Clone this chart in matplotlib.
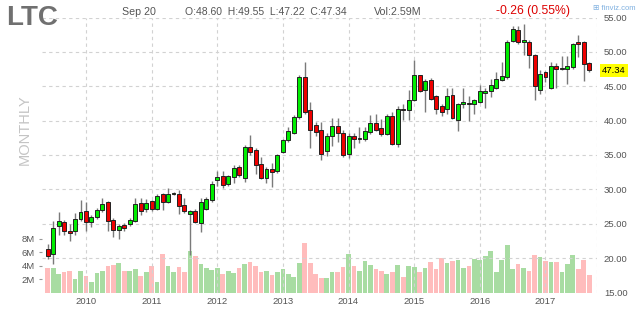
import matplotlib
matplotlib.use("Agg")
import matplotlib.pyplot as plt
import numpy as np

plt.rcParams['font.family'] = ['Liberation Sans', 'DejaVu Sans']

# Monthly candles, Jun 2009 .. Sep 2017
opens = [21.3, 20.6, 24.7, 25.3, 23.9, 23.9, 25.7,
         26.9, 25.25, 25.97, 26.95, 28.1, 25.6, 24.15, 24.85, 24.95, 25.45, 28.0, 27.1,
         28.25, 27.15, 29.3, 28.1, 29.3, 29.3, 27.7, 26.4, 26.9, 25.1, 27.2, 28.4,
         31.3, 31.95, 30.75, 31.85, 33.3, 31.6, 36.2, 35.7, 33.7, 31.7, 32.9, 32.7,
         35.5, 37.2, 38.2, 40.5, 46.3, 41.5, 39.3, 38.7, 35.6, 37.8, 39.25, 38.2,
         35.1, 37.7, 37.3, 37.4, 38.4, 39.7, 39.0, 38.1, 40.65, 36.6, 41.75, 41.5,
         42.95, 46.6, 44.4, 45.95, 43.55, 42.1, 41.7, 43.7, 40.1, 42.4, 42.6, 42.4,
         42.7, 44.05, 44.3, 44.8, 45.95, 46.3, 51.6, 53.2, 51.4, 51.4, 49.5, 44.5,
         47.1, 44.8, 47.95, 47.5, 47.45, 47.8, 51.45, 51.45, 48.4]
highs = [22.0, 25.4, 26.7, 25.6, 24.9, 26.5, 28.4,
         28.15, 26.3, 27.3, 28.7, 28.25, 25.85, 24.95, 25.1, 25.8, 28.7, 28.7, 28.6,
         28.5, 29.3, 29.45, 30.2, 29.55, 29.9, 28.8, 27.0, 27.1, 28.7, 28.9, 31.2,
         32.7, 32.7, 32.1, 33.55, 33.55, 36.45, 37.9, 35.95, 34.75, 33.3, 33.9, 35.15,
         37.3, 39.1, 40.8, 46.6, 48.5, 42.7, 39.8, 39.8, 38.2, 40.4, 40.4, 38.6,
         38.2, 38.2, 39.1, 39.1, 40.8, 41.0, 40.2, 41.0, 41.3, 42.2, 42.4, 44.4,
         48.8, 46.7, 46.1, 46.2, 43.7, 42.4, 44.7, 44.75, 42.6, 44.8, 43.55, 43.2,
         45.2, 44.7, 46.1, 47.1, 48.5, 51.7, 53.7, 53.7, 54.0, 51.7, 49.7, 47.3,
         47.2, 48.5, 48.4, 49.4, 49.4, 51.3, 52.5, 51.6, 48.55]
lows = [19.9, 19.2, 23.3, 23.4, 22.5, 23.3, 25.35,
        23.9, 24.6, 25.7, 26.7, 24.0, 23.05, 22.8, 23.9, 24.7, 25.2, 26.3, 26.65,
        26.8, 27.0, 27.0, 28.0, 29.2, 26.4, 26.6, 20.4, 25.1, 23.8, 27.0, 28.2,
        30.5, 30.2, 30.5, 31.0, 31.85, 31.1, 35.0, 32.3, 31.5, 31.0, 30.4, 32.4,
        35.3, 36.9, 38.1, 40.3, 41.0, 36.0, 37.8, 34.3, 34.9, 36.3, 36.9, 34.75,
        34.6, 36.0, 36.7, 37.0, 38.1, 38.5, 37.8, 37.9, 36.45, 36.2, 40.1, 40.1,
        42.8, 44.2, 41.3, 43.0, 41.0, 40.7, 40.9, 40.3, 38.5, 41.9, 40.0, 41.0,
        42.6, 41.9, 43.4, 44.6, 45.7, 46.1, 51.4, 51.1, 49.6, 47.7, 43.0, 43.85,
        45.6, 44.6, 44.7, 47.3, 45.4, 47.55, 49.3, 45.7, 47.05]
closes = [20.3, 24.4, 25.4, 23.9, 23.65, 25.7, 26.7,
          25.25, 25.97, 27.0, 27.85, 25.45, 24.15, 24.6, 24.45, 25.5, 27.85, 26.8, 28.0,
          27.15, 29.1, 28.1, 29.3, 29.45, 27.6, 26.9, 26.9, 25.2, 28.2, 28.6, 30.75,
          31.85, 30.65, 31.95, 33.15, 32.1, 36.2, 35.4, 33.55, 31.6, 32.9, 32.5, 35.0,
          37.2, 38.5, 40.55, 46.3, 41.3, 38.7, 38.4, 35.15, 37.75, 39.25, 38.2, 35.0,
          37.75, 37.4, 37.5, 38.5, 39.6, 38.7, 38.0, 40.7, 36.6, 41.75, 41.5, 42.95,
          46.7, 44.3, 45.8, 43.1, 41.75, 41.2, 43.6, 40.45, 42.4, 42.7, 42.35, 42.95,
          44.3, 44.35, 45.15, 46.1, 46.45, 51.5, 53.4, 51.4, 51.8, 49.6, 45.05, 46.8,
          46.3, 47.95, 47.45, 47.6, 47.95, 51.2, 51.2, 48.3, 47.34]
volumes = [3.58, 3.58, 2.74, 2.99, 3.13, 2.04, 3.13,
           2.39, 1.59, 2.89, 3.13, 3.88, 4.13, 4.38, 3.23, 3.13, 3.53, 2.49, 2.99,
           3.98, 1.59, 5.72, 3.98, 2.99, 3.83, 2.99, 6.12, 5.47, 4.23, 3.68, 3.38,
           3.58, 2.74, 3.13, 2.89, 3.68, 4.23, 4.48, 3.98, 3.03, 3.13, 2.59, 2.99,
           3.43, 2.74, 2.34, 4.38, 7.41, 4.37, 2.71, 2.16, 2.16, 3.02, 3.02, 3.82,
           5.78, 3.97, 3.22, 4.62, 4.12, 3.52, 3.22, 2.76, 3.07, 4.12, 2.31, 3.92,
           3.82, 3.02, 3.67, 4.52, 3.52, 5.08, 4.37, 4.62, 4.77, 3.72, 3.97, 4.92,
           4.77, 5.38, 6.18, 3.12, 4.77, 7.14, 3.52, 4.27, 3.67, 3.27, 5.63, 5.23,
           4.62, 4.57, 4.52, 3.02, 4.27, 5.53, 3.52, 4.87, 2.61]
years = ['2010', '2011', '2012', '2013', '2014', '2015', '2016', '2017']
price_ticks = [15, 20, 25, 30, 35, 40, 45, 50, 55]
vol_ticks = [2, 4, 6, 8]
last_price = 47.34
start_offset = -7  # Jun 2009 relative to Jan 2010

W, H = 640, 311
fig = plt.figure(figsize=(6.4, 3.11), dpi=100)
fig.patch.set_facecolor('white')

rect = [42 / W, (H - 292.5) / H, (597 - 42) / W, 275 / H]
xl = (-8.04, 93.42)

o = np.array(opens); hi = np.array(highs); lo = np.array(lows); c = np.array(closes)
v = np.array(volumes)
x = np.arange(len(o)) + start_offset
up = c >= o

# volume axis (behind)
axv = fig.add_axes(rect)
axv.set_xlim(*xl)
axv.set_ylim(0, 275 / 6.715)
axv.bar(x, v, width=0.86, color=np.where(up, '#a8dca2', '#ffbcbc'), linewidth=0)
for s in axv.spines.values():
    s.set_visible(False)
axv.set_xticks([])
axv.set_yticks(vol_ticks)
axv.set_yticklabels([f'{t}M' for t in vol_ticks])
axv.tick_params(axis='y', length=2, width=0.8, color='#999999', labelsize=6.8,
                labelcolor='#555555', pad=3)

# price axis
ax = fig.add_axes(rect)
ax.set_facecolor('none')
ax.set_xlim(*xl)
ax.set_ylim(15, 55)
for s in ax.spines.values():
    s.set_visible(False)

grid_kw = dict(color='#d2d2d2', lw=0.8, dashes=(3, 3), zorder=0)
for p in price_ticks[1:]:
    ax.axhline(p, **grid_kw)
jan_x = [12 * i for i in range(len(years))]
for jx in jan_x:
    ax.axvline(jx, **grid_kw)
ax.axvline(xl[1] - 0.05, **grid_kw)

ax.vlines(x, lo, hi, color='#7a7a7a', lw=1.0, zorder=2)
body_bottom = np.minimum(o, c)
body_h = np.maximum(np.abs(c - o), 0.12)
ax.bar(x, body_h, bottom=body_bottom, width=0.72,
       color=np.where(up, '#00ee00', '#ee0000'), edgecolor='#222222',
       linewidth=0.7, zorder=3)

ax.yaxis.tick_right()
ax.set_yticks(price_ticks)
ax.set_yticklabels([f'{p:.2f}' for p in price_ticks])
ax.tick_params(axis='y', length=0, labelsize=6.8, labelcolor='#555555', pad=5)
ax.set_xticks(jan_x)
ax.set_xticklabels(years)
ax.tick_params(axis='x', length=0, labelsize=6.8, labelcolor='#555555', pad=3)

# last price label
ax.text(1.0 + 5 / 555, last_price, f'{last_price:.2f}', transform=ax.get_yaxis_transform(),
        ha='left', va='center', fontsize=6.8, color='black',
        bbox=dict(boxstyle='square,pad=0.2', fc='#ffff00', ec='none'), zorder=5)


def ftxt(px, py, s, **kw):
    fig.text(px / W, 1 - py / H, s, va='center', **kw)


ftxt(6, 18, 'LTC', fontsize=20, fontweight='bold', color='#707070', ha='left')
ftxt(122, 12, 'Sep 20', fontsize=7.7, color='#555555', ha='left')
ftxt(185, 12, 'O:48.60  H:49.55  L:47.22  C:47.34', fontsize=7.5, color='#555555', ha='left')
ftxt(374, 12, 'Vol:2.59M', fontsize=7.7, color='#555555', ha='left')
ftxt(496, 11, '-0.26 (0.55%)', fontsize=8.8, color='#dd0000', ha='left')
ftxt(593, 8, '\u229e finviz.com', fontsize=5.5, color='#7fb0e0', ha='left')
ftxt(25, 130, 'MONTHLY', fontsize=10.5, color='#c4c4c4', ha='center', rotation=90)

fig.savefig('out.png', dpi=100)
